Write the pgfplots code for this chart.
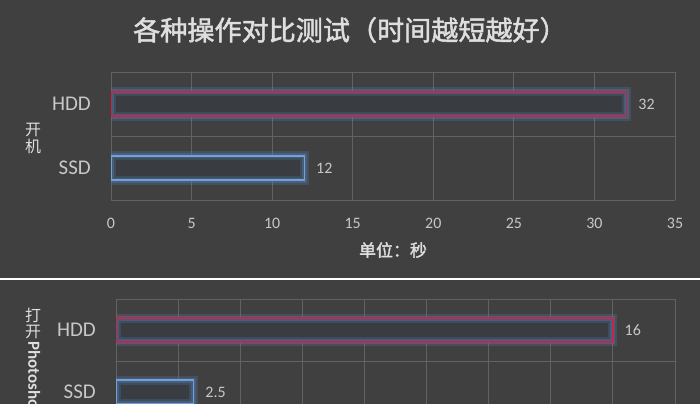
\documentclass[border=0pt]{standalone}
\usepackage{fontspec}
\setmainfont{Carlito}
\newfontfamily\cjk{Noto Sans CJK SC}
\newfontfamily\cjkb[FakeBold=1.8]{Noto Sans CJK SC}
\usepackage{pgfplots}
\pgfplotsset{compat=1.18}

\definecolor{bg}{RGB}{64,64,64}
\definecolor{gridc}{RGB}{98,98,98}
\definecolor{titlec}{RGB}{222,222,222}
\definecolor{tickc}{RGB}{200,200,200}
\definecolor{hddc}{RGB}{196,40,72}
\definecolor{ssdc}{RGB}{112,162,216}
\definecolor{glowc}{RGB}{84,120,170}
\definecolor{barin}{RGB}{57,60,65}

\pgfplotsset{
  panel/.style={
    xbar, bar shift=0pt, bar width=0.38,
    scale only axis, anchor=south west,
    ymin=-0.5, ymax=1.5,
    ytick={0,1}, yticklabels={SSD,HDD},
    minor ytick={-0.5,0.5,1.5},
    xmajorgrids, yminorgrids,
    major tick length=0pt, minor tick length=0pt,
    axis line style={draw=none},
    grid style={gridc, line width=0.8bp},
    /pgf/number format/assume math mode=true,
    xticklabel style={font=\fontsize{16}{16}\selectfont, text=tickc, inner sep=0pt, yshift=-18bp},
    yticklabel style={font=\fontsize{21}{21}\selectfont, text=tickc, inner sep=0pt, xshift=-20bp},
  },
  barfill/.style={draw=none, fill=barin},
  glowout/.style={fill=none, draw=glowc, draw opacity=0.28, line width=9bp},
  glowin/.style={fill=none, draw=glowc, draw opacity=0.4, line width=5bp},
  edge/.style={fill=none, draw=#1, line width=1.6bp,
    nodes near coords,
    nodes near coords style={anchor=west, font=\fontsize{16}{16}\selectfont,
      text=tickc, inner sep=0pt, xshift=11bp}},
}

\begin{document}
\begin{tikzpicture}
\useasboundingbox (0,0) rectangle (700bp,-404bp);
\fill[bg] (0,0) rectangle (700bp,-404bp);
\clip (0,0) rectangle (700bp,-404bp);

\node[text=titlec, font=\cjkb\fontsize{27.2}{27.2}\selectfont] at (350bp,-30bp)
  {各种操作对比测试（时间越短越好）};

% 开机
\begin{axis}[panel,
  at={(111bp,-200bp)}, width=564bp, height=128bp,
  xmin=0, xmax=35, xtick={0,5,...,35},
  xlabel={\cjkb 单位：秒},
  xlabel style={at={(rel axis cs:0.5,0)}, anchor=center, yshift=-50bp,
    text=titlec, font=\fontsize{17}{17}\selectfont},
]
\addplot[barfill] coordinates {(32,1)};
\addplot[glowout] coordinates {(32,1)};
\addplot[glowin] coordinates {(32,1)};
\addplot[edge=hddc] coordinates {(32,1)};
\addplot[barfill] coordinates {(12,0)};
\addplot[glowout] coordinates {(12,0)};
\addplot[glowin] coordinates {(12,0)};
\addplot[edge=ssdc] coordinates {(12,0)};
\end{axis}

\node[text=titlec, font=\cjk\fontsize{16}{17}\selectfont, align=center, inner sep=0pt]
  at (33bp,-138bp) {开\\机};

\draw[white, line width=1.8bp] (0,-279bp) -- (700bp,-279bp);

% 打开Photoshop (its tick labels lie below the picture's edge)
\begin{axis}[panel,
  at={(116bp,-423bp)}, width=559bp, height=124bp,
  xmin=0, xmax=18, xtick={0,2,...,18}, xticklabels=\empty,
]
\addplot[barfill] coordinates {(16,1)};
\addplot[glowout] coordinates {(16,1)};
\addplot[glowin] coordinates {(16,1)};
\addplot[edge=hddc] coordinates {(16,1)};
\addplot[barfill] coordinates {(2.5,0)};
\addplot[glowout] coordinates {(2.5,0)};
\addplot[glowin] coordinates {(2.5,0)};
\addplot[edge=ssdc] coordinates {(2.5,0)};
\end{axis}

\node[text=titlec, font=\cjk\fontsize{16}{16}\selectfont, inner sep=0pt] at (33bp,-315bp) {打};
\node[text=titlec, font=\cjk\fontsize{16}{16}\selectfont, inner sep=0pt] at (33bp,-332bp) {开};
\node[text=titlec, font=\bfseries\fontsize{17}{17}\selectfont, inner sep=0pt, rotate=-90, anchor=west]
  at (33bp,-341bp) {Photoshop};
\end{tikzpicture}
\end{document}
